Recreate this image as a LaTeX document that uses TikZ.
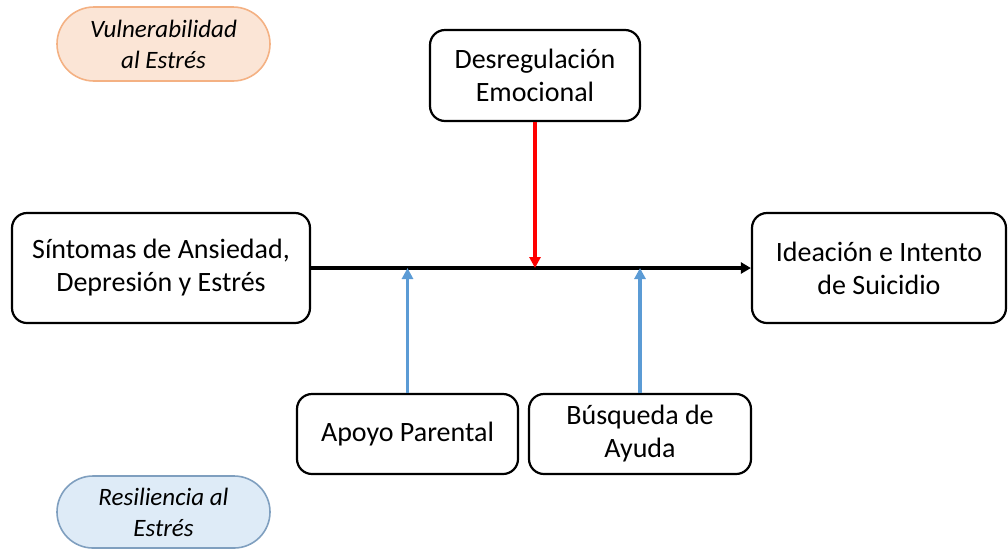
\documentclass[tikz,border=0pt]{standalone}
\usepackage{fontspec}
\setmainfont{Carlito}
\usetikzlibrary{arrows.meta}

\definecolor{vulnfill}{HTML}{FBE5D6}
\definecolor{vulnline}{HTML}{F4B183}
\definecolor{resilfill}{HTML}{DEEBF7}
\definecolor{resilline}{HTML}{7F9FBF}
\definecolor{moderblue}{HTML}{5B9BD5}

\tikzset{
  varbox/.style={draw=black, line width=2.2pt, rounded corners=15pt, fill=white,
    align=center, inner sep=0pt, font=\fontsize{28}{33}\selectfont},
  pill/.style={line width=1.6pt, align=center, inner sep=0pt,
    font=\fontsize{25}{31}\selectfont\itshape},
  mainarrow/.style={line width=3.4pt, -{Triangle[length=10pt,width=11pt]}},
  modarrow/.style={line width=3.2pt, -{Triangle[length=11pt,width=11pt]}}
}

\begin{document}
\begin{tikzpicture}[x=1pt,y=-1pt]
\useasboundingbox (0,0) rectangle (1008,550);

% legend pills
\node[pill, draw=vulnline, fill=vulnfill, minimum width=213pt, minimum height=74pt,
  rounded corners=37pt] (vuln) at (163.5,44) {Vulnerabilidad\\al Estrés};
\node[pill, draw=resilline, fill=resilfill, minimum width=213pt, minimum height=72pt,
  rounded corners=36pt] (resil) at (163.5,512) {Resiliencia al\\Estrés};

% variables
\node[varbox, minimum width=298pt, minimum height=110pt] (sint) at (161,268)
  {Síntomas de Ansiedad,\\Depresión y Estrés};
\node[varbox, minimum width=254pt, minimum height=110pt] (idea) at (879,268)
  {Ideación e Intento\\de Suicidio};
\node[varbox, minimum width=210pt, minimum height=91pt] (desr) at (535,75.5)
  {Desregulación\\Emocional};
\node[varbox, minimum width=221pt, minimum height=80pt] (apoyo) at (407.5,434)
  {Apoyo Parental};
\node[varbox, minimum width=222pt, minimum height=80pt] (busq) at (640,434)
  {Búsqueda de\\Ayuda};

% points on the main path
\coordinate (mdesr) at (desr.south |- sint.east);
\coordinate (mapoyo) at (apoyo.north |- sint.east);
\coordinate (mbusq) at (busq.north |- sint.east);

% connectors
\draw[mainarrow] (sint.east) -- (idea.west);
\draw[modarrow, red] (desr.south) -- (mdesr);
\draw[modarrow, moderblue] (apoyo.north) -- (mapoyo);
\draw[modarrow, moderblue] (busq.north) -- (mbusq);

\end{tikzpicture}
\end{document}
